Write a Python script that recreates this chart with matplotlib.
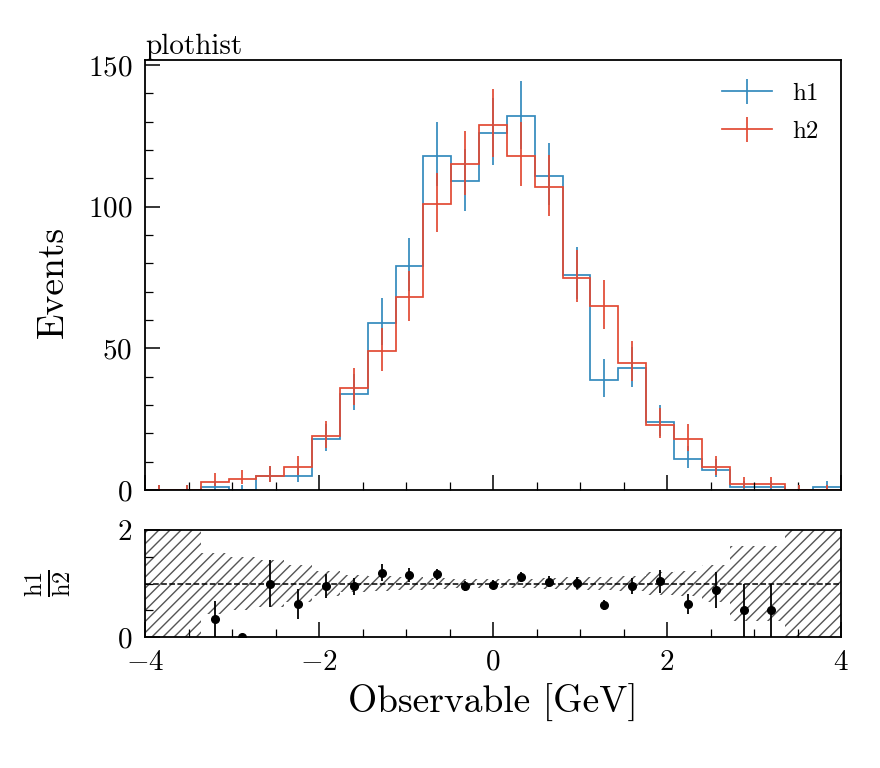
import math
import numpy as np
import matplotlib
matplotlib.use("Agg")
import matplotlib.pyplot as plt
from matplotlib.lines import Line2D

plt.rcParams["font.family"] = "serif"
plt.rcParams["font.serif"] = ["cmr10"]
plt.rcParams["mathtext.fontset"] = "cm"
plt.rcParams["axes.formatter.use_mathtext"] = True
plt.rcParams["axes.unicode_minus"] = True
plt.rcParams["hatch.linewidth"] = 1.0

# binning: 25 bins between -4 and 4
edges = np.linspace(-4, 4, 26)

# counts
h1 = [0, 0, 1, 0, 5, 5, 18, 34, 59, 79, 118, 109, 126,
      132, 111, 76, 39, 43, 24, 11, 7, 1, 1, 0, 1]
h2 = [0, 0, 3, 4, 5, 8, 19, 36, 49, 68, 101, 115, 129,
      118, 107, 75, 65, 45, 23, 18, 8, 2, 2, 0, 0]

blue = "#348ABD"
red = "#E24A33"


def poisson_cdf(k, mu):
    if k < 0:
        return 0.0
    if mu <= 0:
        return 1.0
    return sum(math.exp(-mu + j * math.log(mu) - math.lgamma(j + 1)) for j in range(k + 1))


def solve(f, target, lo, hi):
    # f decreasing in mu
    for _ in range(80):
        mid = 0.5 * (lo + hi)
        if f(mid) > target:
            lo = mid
        else:
            hi = mid
    return 0.5 * (lo + hi)


def poisson_interval(counts, cl=0.682689492):
    a = (1 - cl) / 2
    low, high = [], []
    for n in counts:
        n = int(n)
        top = n + 10 * math.sqrt(n) + 10
        up = solve(lambda m: poisson_cdf(n, m), a, 0.0, top)
        dn = 0.0 if n == 0 else solve(lambda m: poisson_cdf(n - 1, m), 1 - a, 0.0, top)
        low.append(n - dn)
        high.append(up - n)
    return np.array(low), np.array(high)


h1 = np.array(h1, dtype=float)
h2 = np.array(h2, dtype=float)
centers = 0.5 * (edges[1:] + edges[:-1])

fig = plt.figure(figsize=(8.8, 7.68), dpi=100)
ax = fig.add_axes([145 / 880, 1 - 490 / 768, 696 / 880, 430 / 768])
ax_r = fig.add_axes([145 / 880, 1 - 637 / 768, 696 / 880, 107 / 768], sharex=ax)

lw = 1.25
for h, c in [(h1, blue), (h2, red)]:
    lo, hi = poisson_interval(h)
    ax.stairs(h, edges, color=c, linewidth=lw)
    ax.errorbar(centers, h, yerr=[lo, hi], fmt="none", ecolor=c, elinewidth=lw)

ax.set_xlim(-4, 4)
ax.set_ylim(0, 151.8)
ax.set_ylabel("Events", fontsize=27)
ax.yaxis.set_label_coords(-0.108, 0.485)
ax.set_yticks([0, 50, 100, 150])
ax.yaxis.set_minor_locator(matplotlib.ticker.MultipleLocator(10))
ax.xaxis.set_minor_locator(matplotlib.ticker.MultipleLocator(0.5))
ax.tick_params(labelbottom=False)
ax.text(0.0, 1.0, "plothist", transform=ax.transAxes, ha="left", va="bottom", fontsize=21)

handles = [Line2D([], [], color=blue, lw=lw, marker="|", markersize=18, markeredgewidth=lw),
           Line2D([], [], color=red, lw=lw, marker="|", markersize=18, markeredgewidth=lw)]
ax.legend(handles, ["h1", "h2"], loc="upper right", frameon=False, fontsize=18,
          numpoints=1, handlelength=2.0, handletextpad=0.8, borderaxespad=0.5,
          labelspacing=0.6)

# ratio panel
with np.errstate(divide="ignore", invalid="ignore"):
    ratio = np.where(h2 > 0, h1 / h2, np.nan)
    ratio_err = np.where(h2 > 0, np.sqrt(h1) / h2, np.nan)
    rel = np.where(h2 > 0, np.sqrt(h2) / h2, 1e3)

ax_r.stairs(1 + rel, edges, baseline=1 - rel, fill=True, facecolor="none",
            edgecolor="#555555", hatch="///", linewidth=0)
ax_r.axhline(1, color="black", linestyle="--", linewidth=1.1)
ax_r.errorbar(centers, ratio, yerr=ratio_err, fmt="o", color="black",
              markersize=5.5, elinewidth=1.3, clip_on=True)
ax_r.set_ylim(0, 2)
ax_r.set_yticks([0, 2])
ax_r.yaxis.set_minor_locator(matplotlib.ticker.MultipleLocator(0.5))
ax_r.set_xticks([-4, -2, 0, 2, 4])
ax_r.set_ylabel(r"$\frac{\mathrm{h1}}{\mathrm{h2}}$", fontsize=25)
ax_r.yaxis.set_label_coords(-0.103, 0.5)
ax_r.set_xlabel("Observable [GeV]", fontsize=27, labelpad=6)

for a in (ax, ax_r):
    a.tick_params(which="both", direction="in", labelsize=21, top=False, right=False, pad=9)
    a.tick_params(which="major", length=11, width=1.1)
    a.tick_params(which="minor", length=5.5, width=0.9)
    for s in a.spines.values():
        s.set_linewidth(1.3)

fig.savefig("out.png", dpi=100)
